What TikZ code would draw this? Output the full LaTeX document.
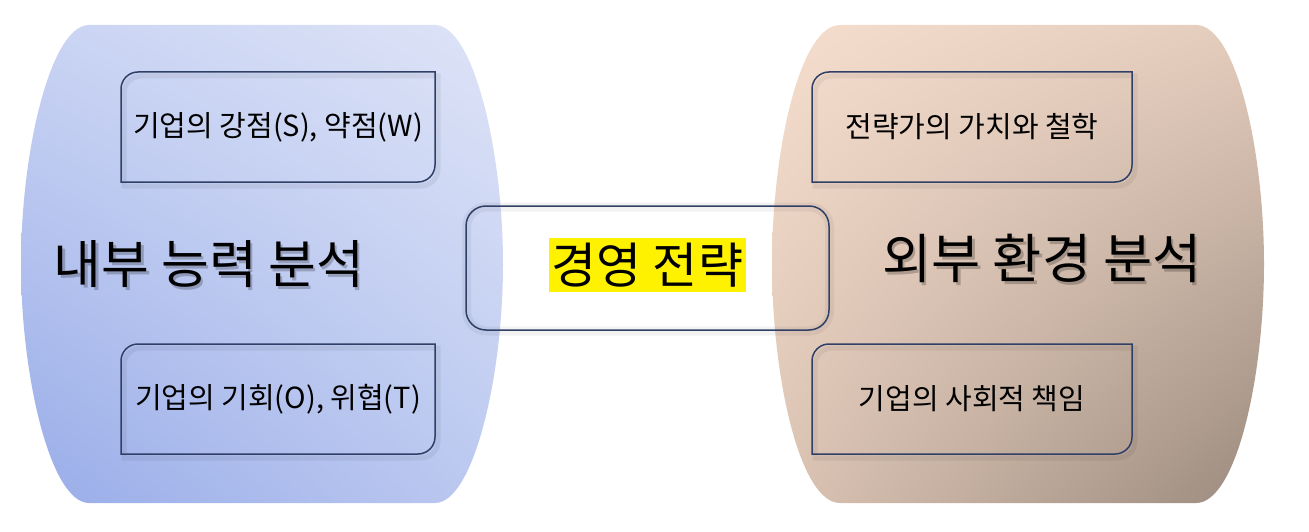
\documentclass[tikz,border=0pt]{standalone}
\usepackage{fontspec}
\usetikzlibrary{shadings}
\newfontfamily\kr{Noto Sans CJK KR}
\definecolor{boxc}{HTML}{2F3F66}
\definecolor{bUL}{HTML}{C9D3F3}
\definecolor{bUR}{HTML}{DEE4F7}
\definecolor{bLL}{HTML}{98ACE8}
\definecolor{bLR}{HTML}{BCC9F0}
\definecolor{pUL}{HTML}{F6DECE}
\definecolor{pUR}{HTML}{E4CCBC}
\definecolor{pLL}{HTML}{DCC4B4}
\definecolor{pLR}{HTML}{9A8A7D}
\newcommand\dboxpath[4]{(#1,#4) -- (#1,#2+17) arc[start angle=180,end angle=270,radius=17] -- (#3,#2) -- (#3,#4-17) arc[start angle=0,end angle=90,radius=17] -- cycle}
\begin{document}
\begin{tikzpicture}[x=1pt,y=-1pt,
  boxline/.style={draw=boxc,line width=1.5pt},
  boxshadow/.style={draw=black,opacity=0.06,line width=5pt},
  smalltext/.style={font=\kr\fontsize{29}{32}\selectfont,text=black},
  bigtext/.style={font=\kr\fontsize{52}{58}\selectfont,text=black},
  bigshadow/.style={font=\kr\fontsize{52}{58}\selectfont,text=black,opacity=0.22},
  bigtextr/.style={font=\kr\fontsize{53.5}{58}\selectfont,text=black},
  bigshadowr/.style={font=\kr\fontsize{53.5}{58}\selectfont,text=black,opacity=0.22},
  midtext/.style={font=\kr\fontsize{49}{54}\selectfont,text=black,fill=yellow,inner xsep=3pt,inner ysep=5pt},
]
\useasboundingbox (0,0) rectangle (1309,532);
% left blob
\shade[upper left=bUL,upper right=bUR,lower left=bLL,lower right=bLR]
  (89,25) -- (435,25) .. controls (473,25) and (503,150) .. (503,264)
  .. controls (503,378) and (473,503) .. (435,503) -- (89,503)
  .. controls (51,503) and (21,378) .. (21,264)
  .. controls (21,150) and (51,25) .. (89,25) -- cycle;
% right blob
\shade[upper left=pUL,upper right=pUR,lower left=pLL,lower right=pLR]
  (840,25) -- (1196,25) .. controls (1236,25) and (1264,150) .. (1264,264)
  .. controls (1264,378) and (1236,503) .. (1196,503) -- (840,503)
  .. controls (800,503) and (772,378) .. (772,264)
  .. controls (772,150) and (800,25) .. (840,25) -- cycle;
% inner boxes
\foreach \xa/\xb in {121/435,812/1132}{
  \foreach \ya/\yb in {72/182,344/454}{
    \begin{scope}[shift={(3,4)}]
      \draw[boxshadow] \dboxpath{\xa}{\ya}{\xb}{\yb};
    \end{scope}
    \draw[boxline] \dboxpath{\xa}{\ya}{\xb}{\yb};
  }
}
\node[smalltext] (sw) at (278,127) {기업의 강점(S), 약점(W)};
\node[smalltext] (ot) at (278,399) {기업의 기회(O), 위협(T)};
\node[smalltext] (val) at (972,127) {전략가의 가치와 철학};
\node[smalltext] (csr) at (972,399) {기업의 사회적 책임};
% big labels with soft shadow
\node[bigshadow] (innersh) at (211.5,267.5) {내부 능력 분석};
\node[bigtext] (inner) at (209,264) {내부 능력 분석};
\node[bigshadowr] (outersh) at (1044.5,261.5) {외부 환경 분석};
\node[bigtextr] (outer) at (1042,258) {외부 환경 분석};
% center box
\node[draw=black,opacity=0.05,line width=9pt,rounded corners=20,minimum width=363,minimum height=124] (stratsh) at (648,269) {};
\node[boxline,rounded corners=20,minimum width=363,minimum height=124] (strat) at (647.5,268) {};
\node[midtext] (mgmt) at (647.5,265) {경영 전략};
\end{tikzpicture}
\end{document}
